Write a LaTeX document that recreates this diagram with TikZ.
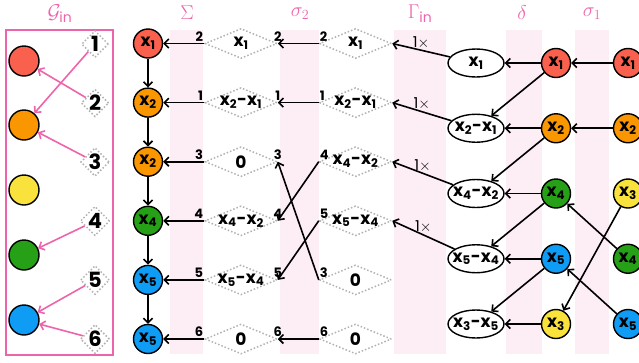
\RequirePackage{fix-cm}
\documentclass[tikz,border=0pt]{standalone}
\usepackage{amsmath,amssymb}
\usepackage{mathtools}
\usepackage{fontspec}
\setmainfont{Poppins}
\usepackage{tikz}
\usetikzlibrary{shapes.geometric}
\usetikzlibrary{arrows.meta}
\usetikzlibrary{positioning}

\definecolor{redball}{RGB}{249,96,77}
\definecolor{orangeball}{RGB}{250,150,0}
\definecolor{yellowball}{RGB}{250,226,60}
\definecolor{greenball}{RGB}{38,160,22}
\definecolor{blueball}{RGB}{14,156,245}
\definecolor{hotpink}{RGB}{238,100,170}
\definecolor{bandpink}{RGB}{253,238,245}

\newcommand{\xv}[1]{x\textsubscript{#1}}

\begin{document}
\begin{tikzpicture}[x=1pt, y=-1pt,
            >={Straight Barb[length=4.5pt, width=9pt]},
            varnode/.style={circle, draw=black, line width=1.4pt, minimum size=29pt, inner sep=0pt, font=\bfseries\fontsize{17}{17}\selectfont},
            colnode/.style={circle, draw=black, line width=1.4pt, minimum size=30pt, inner sep=0pt},
            diffnode/.style={diamond, draw=gray!60, dotted, line width=1.5pt, minimum width=72pt, minimum height=30pt, inner sep=0pt, font=\bfseries\fontsize{17}{17}\selectfont},
            idxnode/.style={diamond, draw=gray!60, dotted, line width=1.5pt, minimum size=27pt, inner sep=0pt, font=\bfseries\fontsize{21}{21}\selectfont},
            ellnode/.style={ellipse, draw=black, line width=1.4pt, fill=white, minimum width=56pt, minimum height=28pt, inner sep=0pt, font=\bfseries\fontsize{17}{17}\selectfont},
            title/.style={text=hotpink, inner sep=0pt, font=\fontsize{20}{20}\selectfont},
            lnum/.style={font=\bfseries\fontsize{13}{13}\selectfont, inner sep=1pt},
            cnt/.style={font=\fontsize{15}{15}\selectfont, inner sep=1pt},
            twolab/.style={label={[lnum, anchor=south east, yshift=1pt]west:#1}, label={[lnum, anchor=south, yshift=1pt]east:#1}},
            onelab/.style={label={[lnum, anchor=south west, yshift=1pt]west:#1}},
            arr/.style={->, line width=1.6pt},
            parr/.style={->, line width=1.6pt, draw=hotpink},
        ]
        \useasboundingbox (0,0) rectangle (639,362);

        % Bands.
        \foreach \xa/\xb in {170/203, 280/319, 394/446, 506/542, 575/609}
            \fill[bandpink] (\xa,30) rectangle (\xb,354);
        \draw[hotpink, line width=1.3pt] (6,30) rectangle (113,355);

        % Titles.
        \node[title] (t_gin)    at (60,14)  {$\mathcal{G}_{\text{in}}$};
        \node[title] (t_sum)    at (187,13) {$\Sigma$};
        \node[title] (t_sigtwo) at (300,14) {$\sigma_2$};
        \node[title] (t_gamma)  at (420,14) {$\Gamma_{\text{in}}$};
        \node[title] (t_delta)  at (522,13) {$\delta$};
        \node[title] (t_sigone) at (592,14) {$\sigma_1$};

        % Input graph.
        \node[colnode, fill=redball]    (c1) at (24,61)  {};
        \node[colnode, fill=orangeball] (c2) at (24,125) {};
        \node[colnode, fill=yellowball] (c3) at (24,190) {};
        \node[colnode, fill=greenball]  (c4) at (24,255) {};
        \node[colnode, fill=blueball]   (c5) at (24,320) {};

        \node[idxnode] (g1) at (95,44)  {1};
        \node[idxnode] (g2) at (95,103) {2};
        \node[idxnode] (g3) at (95,162) {3};
        \node[idxnode] (g4) at (95,221) {4};
        \node[idxnode] (g5) at (95,280) {5};
        \node[idxnode] (g6) at (95,339) {6};

        % Prefix sums.
        \node[varnode, fill=redball]    (s1) at (148,43.5)  {\xv{1}};
        \node[varnode, fill=orangeball] (s2) at (148,102.6) {\xv{2}};
        \node[varnode, fill=orangeball] (s3) at (148,161.7) {\xv{2}};
        \node[varnode, fill=greenball]  (s4) at (148,220.8) {\xv{4}};
        \node[varnode, fill=blueball]   (s5) at (148,279.9) {\xv{5}};
        \node[varnode, fill=blueball]   (s6) at (148,339)   {\xv{5}};

        % Differences after sigma_2.
        \node[diffnode, twolab=2] (m1) at (241,43.5)  {\clap{\xv{1}}};
        \node[diffnode, twolab=1] (m2) at (241,102.6) {\clap{\xv{2}-\xv{1}}};
        \node[diffnode, twolab=3] (m3) at (241,161.7) {\clap{0}};
        \node[diffnode, twolab=4] (m4) at (241,220.8) {\clap{\xv{4}-\xv{2}}};
        \node[diffnode, twolab=5] (m5) at (241,279.9) {\clap{\xv{5}-\xv{4}}};
        \node[diffnode, twolab=6] (m6) at (241,339)   {\clap{0}};

        % Differences before sigma_2.
        \node[diffnode, onelab=2] (n1) at (355.5,43.5)  {\clap{\xv{1}}};
        \node[diffnode, onelab=1] (n2) at (355.5,102.6) {\clap{\xv{2}-\xv{1}}};
        \node[diffnode, onelab=4] (n3) at (355.5,161.7) {\clap{\xv{4}-\xv{2}}};
        \node[diffnode, onelab=5] (n4) at (355.5,220.8) {\clap{\xv{5}-\xv{4}}};
        \node[diffnode, onelab=3] (n5) at (355.5,279.9) {\clap{0}};
        \node[diffnode, onelab=6] (n6) at (355.5,339)   {\clap{0}};

        % Differences of neighbours.
        \node[ellnode] (e1) at (476,63)     {\clap{\xv{1}}};
        \node[ellnode] (e2) at (476,128.25) {\clap{\xv{2}-\xv{1}}};
        \node[ellnode] (e3) at (476,193.5)  {\clap{\xv{4}-\xv{2}}};
        \node[ellnode] (e4) at (476,258.75) {\clap{\xv{5}-\xv{4}}};
        \node[ellnode] (e5) at (476,324)    {\clap{\xv{3}-\xv{5}}};

        % Sorted values.
        \node[varnode, fill=redball]    (d1) at (556,63)     {\xv{1}};
        \node[varnode, fill=orangeball] (d2) at (556,128.25) {\xv{2}};
        \node[varnode, fill=greenball]  (d3) at (556,193.5)  {\xv{4}};
        \node[varnode, fill=blueball]   (d4) at (556,258.75) {\xv{5}};
        \node[varnode, fill=yellowball] (d5) at (556,324)    {\xv{3}};

        % Input values.
        \node[varnode, fill=redball]    (v1) at (628,63)     {\xv{1}};
        \node[varnode, fill=orangeball] (v2) at (628,128.25) {\xv{2}};
        \node[varnode, fill=yellowball] (v3) at (628,193.5)  {\xv{3}};
        \node[varnode, fill=greenball]  (v4) at (628,258.75) {\xv{4}};
        \node[varnode, fill=blueball]   (v5) at (628,324)    {\xv{5}};

        % Lines.
        \foreach \i/\j in {1/2, 2/1, 3/2, 4/4, 5/5, 6/5}
            \draw[parr] (g\i) -- (c\j);
        \foreach \i/\j in {1/2, 2/3, 3/4, 4/5, 5/6}
            \draw[arr] (s\i) -- (s\j);
        \foreach \i in {1,...,6}
            \draw[arr] (m\i.west) -- (s\i);
        \foreach \i/\j in {1/1, 2/2, 3/4, 4/5, 5/3, 6/6}
            \draw[arr] (n\i.west) -- (m\j.east);
        \foreach \i in {1,...,4}
            \draw[arr] (e\i) -- node[cnt, midway, above] (k\i) {1$\times$} (n\i.east);
        \foreach \i in {1,...,5}
            \draw[arr] (d\i) -- (e\i);
        \foreach \i/\j in {1/2, 2/3, 3/4, 4/5}
            \draw[arr] (d\i) -- (e\j);
        \foreach \i/\j in {1/1, 2/2, 3/5, 4/3, 5/4}
            \draw[arr] (v\i) -- (d\j);
    \end{tikzpicture}
\end{document}
